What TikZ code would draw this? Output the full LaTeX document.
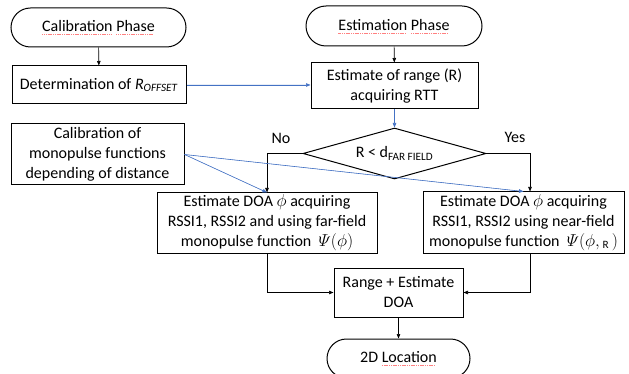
\documentclass[tikz,border=0pt]{standalone}
\usepackage{fontspec}
\setmainfont{Carlito}
\usetikzlibrary{arrows.meta,shapes.geometric,shapes.misc,calc}
\definecolor{accent}{HTML}{4472C4}
\newsavebox\ulbox
\newcommand\redul[1]{\sbox\ulbox{#1}\rlap{\color{red!50}\raisebox{-3pt}{\hbox to \wd\ulbox{\leaders\hbox to 1.8pt{\rule{1.2pt}{0.5pt}\hss}\hfill}}}\usebox\ulbox}
\begin{document}
\begin{tikzpicture}[x=1pt,y=-1pt,
  font=\fontsize{16}{20}\selectfont,
  box/.style={draw, line width=1pt, inner sep=0pt, align=center},
  pill/.style={draw, line width=1pt, rounded rectangle, inner sep=0pt},
  conn/.style={line width=0.6pt, -{Triangle[length=4.5pt,width=3.5pt]}},
  bconn/.style={conn, draw=accent, fill=accent},
  lbl/.style={inner sep=0pt}
]
\path[use as bounding box, fill=white] (0,0) rectangle (629,374);
\node[pill, minimum width=175, minimum height=39] (cp) at (98.5,27.5) {\redul{Calibration} \redul{Phase}};
\node[box, minimum width=174, minimum height=38] (det) at (99,85) {Determination of \textit{R}\textsubscript{\textit{OFFSET}}};
\node[box, minimum width=173, minimum height=61] (cal) at (97.5,154.5) {Calibration of\\monopulse functions\\depending of distance};
\node[pill, minimum width=176, minimum height=40] (ep) at (394,26) {\redul{Estimation} \redul{Phase}};
\node[box, minimum width=167, minimum height=46] (er) at (394.5,86) {Estimate of range (R)\\acquiring RTT};
\node[diamond, draw, line width=1pt, shape aspect=3.6, minimum width=183, minimum height=51, inner sep=0pt] (dm) at (394.5,153.5) {R < d\textsubscript{FAR FIELD}};
\node[box, minimum width=220, minimum height=60] (lb) at (267,223) {Estimate DOA $\phi$ acquiring\\RSSI1, RSSI2 and using far-field\\monopulse function~~$\mathnormal{\Psi}(\phi)$};
\node[box, minimum width=201, minimum height=61] (rb) at (523.5,222.5) {Estimate DOA $\phi$ acquiring\\RSSI1, RSSI2 using near-field\\monopulse function~~$\mathnormal{\Psi}(\phi,$\,\textsubscript{R}\,$)$};
\node[box, minimum width=129, minimum height=49] (rg) at (398.5,292.5) {Range + Estimate\\DOA};
\node[pill, minimum width=143, minimum height=39] (loc) at (398.5,358.5) {2D \redul{Location}};
\node[lbl] (no) at (281,138) {No};
\node[lbl] (yes) at (515,137) {Yes};
\coordinate (xr) at (530,0);
\draw[conn] (cp) -- (det);
\draw[bconn] (det.east) -- (det.east -| er.west);
\draw[conn] (ep) -- (er);
\draw[bconn] (er) -- (dm);
\draw[conn] (dm.west) -| (lb.north);
\draw[conn] (dm.east) -| (xr |- rb.north);
\draw[bconn] (cal.east) -- (lb.north);
\draw[bconn] (cal.east) -- (rb.north);
\draw[conn] (lb.south) |- (rg.west);
\draw[conn] (xr |- rb.south) |- (rg.east);
\draw[conn] (rg) -- (loc);
\end{tikzpicture}
\end{document}
